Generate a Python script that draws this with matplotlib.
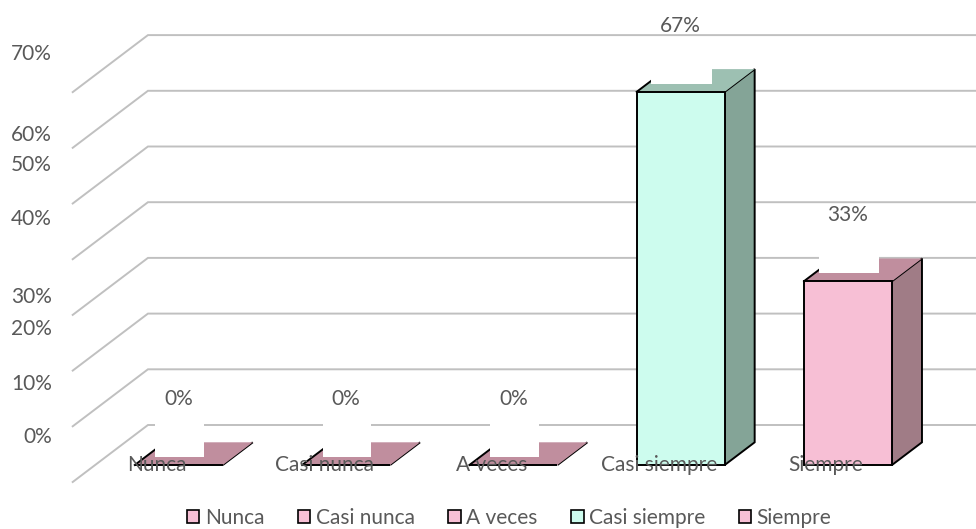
import matplotlib
matplotlib.use("Agg")
import matplotlib.pyplot as plt
from matplotlib.patches import Polygon, Rectangle, Patch
from matplotlib.lines import Line2D
from matplotlib.transforms import IdentityTransform

# ---- data -------------------------------------------------------------
categories = ["Nunca", "Casi nunca", "A veces", "Casi siempre", "Siempre"]
values = [0, 0, 0, 67, 33]                      # percent
value_labels = ["0%", "0%", "0%", "67%", "33%"]
grid_values = [0, 10, 20, 30, 40, 50, 60, 70]
tick_labels = ["0%", "10%", "20%", "30%", "40%", "50%", "60%", "70%"]

# ---- style ------------------------------------------------------------
front_colors = ["#F7BFD5", "#F7BFD5", "#F7BFD5", "#CDFCEE", "#F7BFD5"]
side_colors = ["#A07C86", "#A07C86", "#A07C86", "#84A497", "#A07C86"]
top_colors = ["#C08E9E", "#C08E9E", "#C08E9E", "#9DC0B2", "#C08E9E"]
TEXT = "#595959"
GRID = "#C0C0C0"
FONT = "Lato"
FS = 15

W, H = 976, 529
fig = plt.figure(figsize=(W / 100, H / 100), dpi=100)
ax = fig.add_axes([95.15 / W, 64 / H, 836.5 / W, 389.9 / H])
ax.set_xlim(-0.5, 4.5)
ax.set_ylim(0, 70)
ax.axis("off")

BAR_W = 0.526
SLOPE = 1.32        # horizontal run per pixel of depth
BAR_DEPTH = 22.7    # px
WALL_BACK = 40      # px behind the bar fronts
WALL_FRONT = -17    # px in front of the bar fronts
ident = IdentityTransform()


def px(x, y, depth=0.0):
    """Data point -> display pixels, pushed back by `depth` pixels."""
    X, Y = ax.transData.transform((x, y))
    return (X + SLOPE * depth, Y + depth)


def seg(pts, **kw):
    xs, ys = zip(*pts)
    ln = Line2D(xs, ys, transform=ident, clip_on=False, **kw)
    ax.add_line(ln)
    return ln


# ---- walls: back-wall gridlines + left-wall diagonals ------------------
for g in grid_values:
    back = px(-0.5, g, WALL_BACK)
    front = px(-0.5, g, WALL_FRONT)
    seg([front, back, (W + 20, back[1])], color=GRID, lw=1.4, zorder=1,
        solid_joinstyle="miter")

# ---- 3-D bars ----------------------------------------------------------
edge = dict(ec="black", lw=1.4, joinstyle="miter")
for i, v in enumerate(values):
    x0, x1 = i - BAR_W / 2, i + BAR_W / 2
    fr = px(x1, 0)
    tl, tr = px(x0, v), px(x1, v)
    btl, btr = px(x0, v, BAR_DEPTH), px(x1, v, BAR_DEPTH)
    bbr = px(x1, 0, BAR_DEPTH)
    ax.add_patch(Polygon([fr, tr, btr, bbr], closed=True, transform=ident,
                         fc=side_colors[i], clip_on=False, zorder=3, **edge))
    ax.add_patch(Polygon([tl, tr, btr, btl], closed=True, transform=ident,
                         fc=top_colors[i], ec="none", clip_on=False, zorder=3))
    seg([tl, btl], color="black", lw=1.4, zorder=3.5)
    ax.add_patch(Rectangle((x0, 0), BAR_W, v, fc=front_colors[i],
                           clip_on=False, zorder=4, **edge))

# ---- value labels (with their white label boxes) -----------------------
renderer = fig.canvas.get_renderer()
for i, (v, lab) in enumerate(zip(values, value_labels)):
    t = ax.annotate(lab, xy=(i, v), xytext=(0, 68), textcoords="offset pixels",
                    ha="center", va="center_baseline", color=TEXT,
                    family=FONT, fontsize=FS, zorder=7)
    tw = t.get_window_extent(renderer).width
    cx, cy = px(i, v)
    bw = tw + 20
    bottom = cy + BAR_DEPTH - 15
    ax.add_patch(Rectangle((cx + 1 - bw / 2, bottom), bw, 40, transform=ident,
                           fc="white", ec="none", clip_on=False, zorder=5))

# ---- category labels ---------------------------------------------------
for i, cat in enumerate(categories):
    ax.annotate(cat, xy=(i, 0), xytext=(-22, -6), textcoords="offset pixels",
                ha="center", va="baseline", color=TEXT, family=FONT,
                fontsize=FS, zorder=8)

# ---- value axis labels -------------------------------------------------
tick_label_y = [435, 381.7, 326.7, 295, 216.7, 163, 133, 51.7]
for lab, y in zip(tick_labels, tick_label_y):
    fig.text(52 / W, 1 - y / H, lab, ha="right", va="center_baseline",
             color=TEXT, family=FONT, fontsize=FS)

# ---- legend ------------------------------------------------------------
handles = [Patch(facecolor=c, edgecolor="black", linewidth=1.2)
           for c in front_colors]
fig.legend(handles, categories, loc="center",
           bbox_to_anchor=(509 / W, 1 - 518 / H), ncol=5, frameon=False,
           handlelength=0.62, handleheight=0.62, handletextpad=0.25,
           columnspacing=1.6, borderaxespad=0, borderpad=0,
           prop={"family": FONT, "size": FS}, labelcolor=TEXT)

fig.savefig("out.png", dpi=100)
